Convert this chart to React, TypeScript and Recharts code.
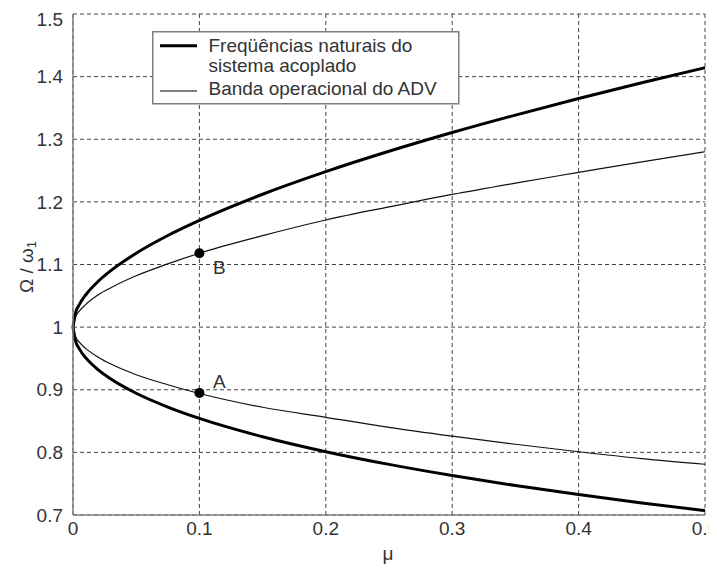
import React from 'react';
import { ComposedChart, Line, Scatter, XAxis, YAxis, CartesianGrid, Legend } from 'recharts';

const mu = [0, 0.002, 0.005, 0.01, 0.02, 0.03, 0.05, 0.075, 0.1, 0.15, 0.2, 0.25, 0.3, 0.35, 0.4, 0.45, 0.5];
const naturalUpper = [1, 1.0226, 1.036, 1.0513, 1.0732, 1.0903, 1.118, 1.1463, 1.1705, 1.2122, 1.2483, 1.2808, 1.3107, 1.3386, 1.365, 1.3902, 1.4142];
const naturalLower = [1, 0.9779, 0.9653, 0.9512, 0.9318, 0.9172, 0.8944, 0.8724, 0.8543, 0.825, 0.8011, 0.7808, 0.763, 0.747, 0.7326, 0.7193, 0.7071];
const bandUpper = [1, 1.016, 1.0255, 1.036, 1.0515, 1.063, 1.082, 1.101, 1.118, 1.146, 1.171, 1.192, 1.212, 1.23, 1.247, 1.264, 1.28];
const bandLower = [1, 0.985, 0.976, 0.966, 0.952, 0.941, 0.924, 0.908, 0.894, 0.872, 0.856, 0.84, 0.826, 0.813, 0.801, 0.79, 0.781];

const markerNames = ['A', 'B'];
const markerMu = [0.1, 0.1];
const markerValues = [0.895, 1.118];

const xTicks = [0, 0.1, 0.2, 0.3, 0.4, 0.5];
const yTicks = [0.7, 0.8, 0.9, 1, 1.1, 1.2, 1.3, 1.4, 1.5];

const legendLabels = ['Freqüências naturais do', 'sistema acoplado', 'Banda operacional do ADV'];

const rows = mu.map((m, i) => ({
  mu: m,
  natUp: naturalUpper[i],
  natLo: naturalLower[i],
  bandUp: bandUpper[i],
  bandLo: bandLower[i],
}));

const markers = markerNames.map((n, i) => ({ mu: markerMu[i], v: markerValues[i], name: n }));

const FONT = '"Liberation Sans", Arial, Helvetica, sans-serif';
const TEXT = '#333';
const AXIS = '#7f7f7f';

const MarkerShape = (props: any) => {
  const { cx, cy, payload } = props;
  const isA = payload.name === 'A';
  return (
    <g>
      <circle cx={cx} cy={cy} r={5} fill="#000" />
      <text
        x={cx + 20}
        y={cy + (isA ? -11 : 14)}
        textAnchor="middle"
        dominantBaseline="central"
        fontSize={19}
        fontFamily={FONT}
        fill={TEXT}
      >
        {payload.name}
      </text>
    </g>
  );
};

const LegendBox = () => (
  <svg width={308} height={74} style={{ display: 'block' }}>
    <rect x={0.75} y={0.75} width={306} height={72} fill="#fff" stroke={AXIS} strokeWidth={1.5} />
    <line x1={8} x2={45} y1={14.7} y2={14.7} stroke="#000" strokeWidth={3} />
    <text x={56.5} y={21.3} fontSize={19} fontFamily={FONT} fill={TEXT}>{legendLabels[0]}</text>
    <text x={56.5} y={41} fontSize={19} fontFamily={FONT} fill={TEXT}>{legendLabels[1]}</text>
    <line x1={8} x2={45} y1={60} y2={60} stroke="#000" strokeWidth={1.2} />
    <text x={56.5} y={64} fontSize={19} fontFamily={FONT} fill={TEXT}>{legendLabels[2]}</text>
  </svg>
);

const YLabel = () => (
  <text
    x={18}
    y={259}
    transform="rotate(-90 18 259)"
    textAnchor="middle"
    dominantBaseline="central"
    fontSize={19}
    fontFamily={FONT}
    fill={TEXT}
  >
    Ω / ω<tspan dy={5} fontSize={13}>1</tspan>
  </text>
);

const XLabel = () => (
  <text x={380} y={552} textAnchor="middle" fontSize={19} fontFamily={FONT} fill={TEXT}>
    μ
  </text>
);

export default function App() {
  const tickStyle = { fontSize: 19, fill: TEXT, fontFamily: FONT };
  return (
    <div style={{ width: 709, height: 561, fontFamily: FONT }}>
      <ComposedChart
        width={709}
        height={561}
        data={rows}
        margin={{ top: 6, right: 12, bottom: 0, left: 0 }}
      >
        <CartesianGrid stroke="#444" strokeDasharray="4 3" strokeWidth={1} />
        <XAxis
          dataKey="mu"
          type="number"
          domain={[0, 0.5]}
          ticks={xTicks}
          height={54}
          tickSize={0}
          tickMargin={7}
          tickLine={false}
          axisLine={{ stroke: AXIS, strokeWidth: 1.5 }}
          tick={tickStyle}
          label={<XLabel />}
        />
        <XAxis
          xAxisId="top"
          orientation="top"
          type="number"
          domain={[0, 0.5]}
          height={0}
          tick={false}
          tickLine={false}
          axisLine={{ stroke: AXIS, strokeWidth: 1.5 }}
        />
        <YAxis
          type="number"
          domain={[0.7, 1.5]}
          ticks={yTicks}
          width={65}
          tickSize={0}
          tickMargin={10}
          tickLine={false}
          axisLine={{ stroke: AXIS, strokeWidth: 1.5 }}
          tick={tickStyle}
          label={<YLabel />}
        />
        <YAxis
          yAxisId="right"
          orientation="right"
          type="number"
          domain={[0.7, 1.5]}
          width={0}
          tick={false}
          tickLine={false}
          axisLine={{ stroke: AXIS, strokeWidth: 1.5 }}
        />
        <Line type="monotone" dataKey="natUp" stroke="#000" strokeWidth={3} dot={false} isAnimationActive={false} />
        <Line type="monotone" dataKey="natLo" stroke="#000" strokeWidth={3} dot={false} isAnimationActive={false} />
        <Line type="monotone" dataKey="bandUp" stroke="#111" strokeWidth={1.2} dot={false} isAnimationActive={false} />
        <Line type="monotone" dataKey="bandLo" stroke="#111" strokeWidth={1.2} dot={false} isAnimationActive={false} />
        <Scatter data={markers} dataKey="v" isAnimationActive={false} shape={<MarkerShape />} />
        <Legend
          layout="horizontal"
          verticalAlign="middle"
          align="center"
          content={<LegendBox />}
          wrapperStyle={{ position: 'absolute', left: 143.7, top: 23, width: 308, height: 74, margin: 0, padding: 0 }}
        />
      </ComposedChart>
    </div>
  );
}
